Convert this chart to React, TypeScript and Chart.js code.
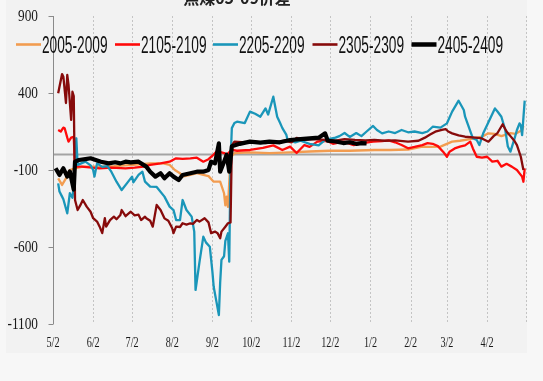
import React, { useEffect, useRef } from "react";
import { Chart, registerables } from "chart.js";
Chart.register(...registerables);

// ---- axis definitions (x = calendar days since 5/2) ----
const monthTicks = [0, 31, 61, 92, 123, 153, 184, 214, 245, 276, 304, 335];
const monthLabels = ["5/2", "6/2", "7/2", "8/2", "9/2", "10/2", "11/2", "12/2", "1/2", "2/2", "3/2", "4/2"];
const xEnd = 365;
const yTicks = [900, 400, -100, -600, -1100];
const yMin = -1100;
const yMax = 900;

const chartTitle = "焦煤05-09价差";
const seriesNames = ["2005-2009", "2105-2109", "2205-2209", "2305-2309", "2405-2409"];

// ---- 2005-2009 ----
const s2005Days = [4,7,10,13,17,23,36,47,62,75,85,90,94,98,100,106,111,116,120,124,129,132,133,134,135,137,140,152,167,183,198,214,229,248,260,274,285,291,299,308,314,322,331,336,341,346,353,357,362,363];
const s2005Values = [-154,-197,-154,-100,-89,-78,-78,-75,-67,-57,-57,-67,-100,-121,-143,-132,-121,-132,-140,-176,-176,-251,-330,-273,-340,-20,10,15,10,15,20,25,25,30,30,33,52,50,52,84,90,100,116,138,135,120,140,135,160,186];

// ---- 2105-2109 ----
const s2105Days = [4,6,8,9,11,12,14,16,17,22,30,36,45,56,63,70,75,83,90,95,100,106,111,116,120,124,126,130,132,134,138,142,152,162,170,177,183,188,194,198,204,211,216,224,232,239,247,254,259,264,269,274,279,285,289,293,297,301,304,306,310,314,318,322,324,327,331,335,339,343,346,350,354,358,362,363,364];
const s2105Values = [160,150,175,171,110,84,110,116,-78,-78,-85,-89,-85,-89,-85,-78,-67,-57,-46,-24,-28,-25,-20,-46,-30,0,19,15,10,0,30,25,30,43,60,30,52,10,62,50,84,90,70,84,62,75,84,88,92,80,62,41,50,62,74,70,55,19,-14,19,40,52,60,84,40,-14,-20,-14,-46,-40,-78,-60,-78,-100,-143,-176,-89];

// ---- 2205-2209 ----
const s2205Days = [4,5,7,8,11,13,15,16,17,18,19,25,29,31,32,34,38,42,45,49,53,57,61,62,66,69,71,75,80,86,90,93,95,98,100,103,107,109,110,113,116,118,121,123,124,126,128,129,130,132,133,135,136,137,138,140,142,148,152,156,160,164,166,170,173,175,177,180,181,187,191,198,205,210,218,221,225,229,234,238,242,247,250,254,259,264,269,274,279,285,289,293,299,304,308,313,317,318,320,324,327,329,332,336,341,343,346,349,351,353,356,358,360,361,362,364];
const s2205Values = [-187,-240,-273,-290,-381,-251,-280,-200,-57,106,-67,-46,-70,-100,-143,-57,-80,-75,-111,-176,-230,-187,-143,-180,-132,-111,-176,-208,-210,-273,-338,-360,-425,-425,-295,-360,-403,-500,-879,-700,-533,-570,-598,-760,-858,-950,-1042,-830,-684,-660,-560,-511,-695,-50,172,205,214,205,279,265,246,300,260,376,246,210,172,130,95,80,90,70,60,95,110,120,140,115,140,120,150,186,160,138,150,140,160,145,150,140,150,181,175,203,279,350,290,246,200,106,95,62,138,210,300,280,246,160,52,19,100,160,203,190,127,350];

// ---- 2305-2309 ----
const s2305Days = [4,5,7,8,10,11,12,14,15,16,17,19,21,23,26,29,31,34,36,38,40,41,44,47,49,52,53,56,58,60,63,66,68,71,72,75,77,80,83,86,89,92,93,95,98,100,103,106,108,111,113,117,120,122,125,127,129,130,133,135,137,138,140,148,156,164,171,179,184,188,194,202,210,218,225,233,241,248,256,264,274,282,287,291,295,300,303,305,308,313,318,326,331,336,340,343,347,350,353,356,358,361,363];
const s2305Values = [398,440,523,506,335,517,452,225,408,380,-295,-360,-330,-295,-338,-371,-413,-435,-468,-510,-413,-468,-425,-403,-420,-392,-360,-400,-385,-371,-395,-390,-425,-403,-413,-430,-468,-327,-360,-414,-430,-478,-510,-468,-470,-446,-455,-446,-450,-425,-435,-413,-440,-510,-500,-510,-543,-500,-468,-446,-440,60,84,80,84,75,80,90,80,108,95,100,95,90,100,95,92,95,90,92,84,90,110,130,149,160,165,150,138,125,116,110,105,84,120,140,197,150,120,90,62,-14,-100];

// ---- 2405-2409 ----
const s2405Days = [2,5,8,11,13,16,17,20,25,29,33,37,43,48,52,56,60,66,72,75,79,83,86,90,93,97,100,106,111,116,120,122,125,128,129,132,134,136,138,144,152,160,167,175,183,191,198,205,210,212,218,224,229,234,238,242];
const s2405Values = [-89,-132,-89,-143,-110,-227,-46,-35,-29,-24,-35,-46,-57,-50,-57,-46,-50,-46,-78,-111,-143,-121,-154,-121,-143,-165,-132,-121,-111,-111,-100,-46,-57,73,-111,-46,0,-111,54,70,84,78,84,80,95,100,105,110,138,90,85,75,80,70,75,73];

const seriesDays = [s2005Days, s2105Days, s2205Days, s2305Days, s2405Days];
const seriesValues = [s2005Values, s2105Values, s2205Values, s2305Values, s2405Values];
const seriesColors = ["#F29C50", "#FF0A0A", "#1A96B9", "#870B0B", "#000000"];
const seriesWidths = [2.3, 2.3, 2.3, 2.3, 4.2];

const W = 543;
const H = 381;

export default function App() {
  const ref = useRef<HTMLCanvasElement>(null);

  useEffect(() => {
    if (!ref.current) return;

    const decor = {
      id: "decor",
      beforeDraw(chart: any) {
        const { ctx, chartArea: a, scales } = chart;
        const x = scales.x;
        const y = scales.y;
        ctx.save();
        ctx.fillStyle = "#f7f7f7";
        ctx.fillRect(0, 0, W, H);
        ctx.fillStyle = "#f2f2f2";
        ctx.fillRect(6, 0, 521, 353);

        // vertical dotted gridlines
        ctx.strokeStyle = "#c4c4c4";
        ctx.lineWidth = 1;
        ctx.setLineDash([2, 2]);
        [...monthTicks.slice(1), xEnd].forEach((t) => {
          const px = Math.round(x.getPixelForValue(t)) + 0.5;
          ctx.beginPath();
          ctx.moveTo(px, a.top);
          ctx.lineTo(px, a.bottom);
          ctx.stroke();
        });
        ctx.setLineDash([]);

        // zero line (category axis crossing)
        const zy = y.getPixelForValue(0);
        ctx.strokeStyle = "#a3a3a3";
        ctx.lineWidth = 2;
        ctx.beginPath();
        ctx.moveTo(a.left, zy);
        ctx.lineTo(a.right, zy);
        ctx.stroke();

        // y axis line + tick marks
        ctx.strokeStyle = "#8a8a8a";
        ctx.lineWidth = 1;
        const ax = Math.round(a.left) + 0.5;
        ctx.beginPath();
        ctx.moveTo(ax, a.top);
        ctx.lineTo(ax, a.bottom);
        yTicks.forEach((v) => {
          const py = Math.round(y.getPixelForValue(v)) + 0.5;
          ctx.moveTo(ax - 5, py);
          ctx.lineTo(ax, py);
        });
        ctx.stroke();

        // y labels
        ctx.fillStyle = "#1a1a1a";
        ctx.font = '16px "Liberation Serif", serif';
        ctx.textAlign = "right";
        ctx.textBaseline = "middle";
        yTicks.forEach((v) => {
          const s = String(v);
          const w = ctx.measureText(s).width;
          ctx.fillText(s, 38, y.getPixelForValue(v) + 1, w * 0.83);
        });

        // x labels
        ctx.font = '15px "Liberation Serif", serif';
        ctx.textAlign = "center";
        monthTicks.forEach((t, i) => {
          const s = monthLabels[i];
          const w = ctx.measureText(s).width;
          ctx.fillText(s, x.getPixelForValue(t), 343, w * 0.68);
        });

        // title (cut off at the top)
        ctx.font = 'bold 16px "Noto Sans CJK SC", sans-serif';
        ctx.fillStyle = "#222";
        ctx.textBaseline = "alphabetic";
        ctx.fillText(chartTitle, 237, 4);
        ctx.restore();
      },
      afterDraw(chart: any) {
        const { ctx } = chart;
        ctx.save();
        const lineStarts = [16, 115, 213, 312.5, 411.5];
        ctx.font = '23px "Liberation Sans", sans-serif';
        ctx.textAlign = "left";
        ctx.textBaseline = "alphabetic";
        seriesNames.forEach((name, i) => {
          const lx = lineStarts[i];
          ctx.strokeStyle = seriesColors[i];
          ctx.lineWidth = i === 4 ? 4.5 : 2.6;
          ctx.beginPath();
          ctx.moveTo(lx, 44.5);
          ctx.lineTo(lx + 25, 44.5);
          ctx.stroke();
          ctx.fillStyle = "#111";
          ctx.fillText(name, lx + 26, 53, 65.5);
        });
        ctx.restore();
      },
    };

    const datasets = seriesNames.map((name, i) => ({
      label: name,
      data: seriesDays[i].map((d, j) => ({ x: d, y: seriesValues[i][j] })),
      borderColor: seriesColors[i],
      backgroundColor: seriesColors[i],
      borderWidth: seriesWidths[i],
      pointRadius: 0,
      tension: 0,
      fill: false,
      order: 5 - i,
      borderJoinStyle: "round" as const,
    }));

    const chart = new Chart(ref.current, {
      type: "line",
      data: { datasets },
      options: {
        responsive: false,
        animation: false,
        devicePixelRatio: 1,
        events: [],
        layout: { padding: { left: 53, right: 17, top: 16, bottom: 57 } },
        plugins: { legend: { display: false }, title: { display: false }, tooltip: { enabled: false } },
        scales: {
          x: { type: "linear", min: 0, max: xEnd, display: false },
          y: { type: "linear", min: yMin, max: yMax, display: false },
        },
      },
      plugins: [decor],
    });
    return () => chart.destroy();
  }, []);

  return (
    <div style={{ position: "fixed", left: 0, top: 0, width: W, height: H, background: "#f7f7f7" }}>
      <canvas ref={ref} width={W} height={H} style={{ display: "block", width: W, height: H }} />
    </div>
  );
}
